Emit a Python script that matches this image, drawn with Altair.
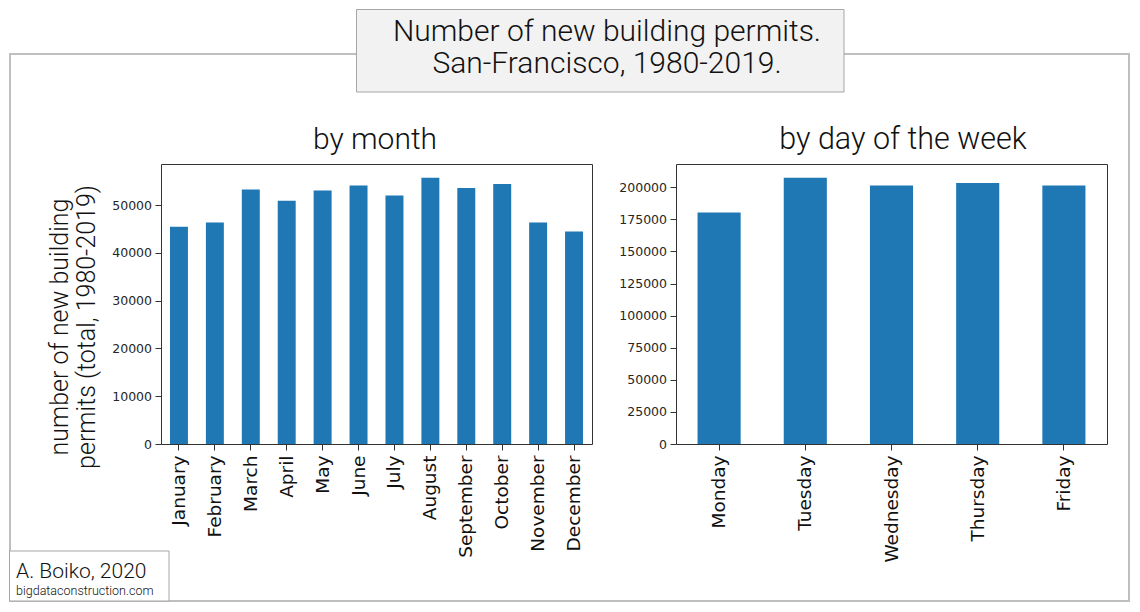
import altair as alt
import pandas as pd

# ---------------- data ----------------
months = ["January", "February", "March", "April", "May", "June", "July",
          "August", "September", "October", "November", "December"]
month_permits = [45450, 46350, 53270, 50900, 53060, 54110, 52010, 55720,
                 53560, 54400, 46350, 44460]
month_ticks = [0, 10000, 20000, 30000, 40000, 50000]

days = ["Monday", "Tuesday", "Wednesday", "Thursday", "Friday"]
day_permits = [180450, 207480, 201480, 203350, 201480]
day_ticks = [0, 25000, 50000, 75000, 100000, 125000, 150000, 175000, 200000]

main_title = ["Number of new building permits.", "San-Francisco, 1980-2019."]
y_title = ["number of new building", "permits (total, 1980-2019)"]
credit = ["A. Boiko, 2020", "bigdataconstruction.com"]

# ---------------- layout constants ----------------
BLUE = "#1f77b4"
W, H = 431, 280
OX, OY = 160, 163          # page position of the left plot area
LIGHT = dict(font="Roboto", fontWeight=300, color="#111111")

month_df = pd.DataFrame({"month": months, "permits": month_permits})
day_df = pd.DataFrame({"day": days, "permits": day_permits})
one = pd.DataFrame({"k": [0]})


def x_axis():
    return alt.Axis(title=None, labelAngle=270, domain=False, grid=False,
                    tickSize=6, tickColor="#333333", tickWidth=1,
                    labelFont="DejaVu Sans", labelFontSize=18.5,
                    labelColor="#111111", labelPadding=5, labelOverlap=False,
                    labelLimit=300)


def y_axis(values):
    return alt.Axis(title=None, values=values, format="d", domain=False,
                    grid=False, tickSize=6, tickColor="#333333", tickWidth=1,
                    labelFont="DejaVu Sans", labelFontSize=12.5,
                    labelColor="#262626", labelPadding=3.5)


def box(X1, X2, Y1, Y2, **kw):
    return alt.Chart(one).mark_rect(**kw).encode(
        x=alt.value(X1 - OX), x2=alt.value(X2 - OX),
        y=alt.value(Y1 - OY), y2=alt.value(Y2 - OY))


def label(text, X, Y, **kw):
    return alt.Chart(one).mark_text(text=text, **kw).encode(
        x=alt.value(X - OX), y=alt.value(Y - OY))


band = alt.Scale(paddingInner=0.5, paddingOuter=0.25)

bars_m = alt.Chart(month_df).mark_bar(color=BLUE).encode(
    x=alt.X("month:N", sort=months, scale=band, axis=x_axis()),
    y=alt.Y("permits:Q", scale=alt.Scale(domain=[0, 58600], nice=False),
            axis=y_axis(month_ticks)),
)

bars_d = alt.Chart(day_df).mark_bar(color=BLUE).encode(
    x=alt.X("day:N", sort=days, scale=band, axis=x_axis()),
    y=alt.Y("permits:Q", scale=alt.Scale(domain=[0, 218150], nice=False),
            axis=y_axis(day_ticks)),
)

decor = [
    # invisible anchor fixing the top-left corner of the page content
    box(8, 9, 8, 9, opacity=0),
    # outer frame
    box(9, 1128, 53, 600, fillOpacity=0, stroke="#bfbfbf", strokeWidth=2),
    # title box
    box(355.5, 843, 8.5, 91, fill="#f2f2f2", stroke="#a6a6a6", strokeWidth=1),
    label(main_title[0], 606, 40, fontSize=30, align="center", baseline="alphabetic", **LIGHT),
    label(main_title[1], 606, 72, fontSize=30, align="center", baseline="alphabetic", **LIGHT),
    # panel titles
    label("by month", 374, 148, fontSize=30, align="center", baseline="alphabetic", **LIGHT),
    label("by day of the week", 902, 148, fontSize=30.5, align="center", baseline="alphabetic", **LIGHT),
    # y-axis title (two lines, rotated)
    label(y_title[0], 67, 326, fontSize=25, angle=270, align="center", baseline="alphabetic", **LIGHT),
    label(y_title[1], 94, 326, fontSize=25, angle=270, align="center", baseline="alphabetic", **LIGHT),
    # credit box
    box(8.5, 168, 550, 600, fill="white", stroke="#a6a6a6", strokeWidth=1),
    label(credit[0], 15, 577, fontSize=21, align="left", baseline="alphabetic", **LIGHT),
    label(credit[1], 15, 594, fontSize=12.5, align="left", baseline="alphabetic", **LIGHT),
]

left = alt.layer(*decor[:3], bars_m, *decor[3:]).properties(width=W, height=H)
right = alt.layer(bars_d).properties(width=W, height=H)

chart = alt.hconcat(left, right, spacing=84, bounds="flush").properties(
    padding=0
).configure_view(stroke="#333333", strokeWidth=1)

chart.save("out.html", embed_options={"renderer": "svg", "actions": False})
